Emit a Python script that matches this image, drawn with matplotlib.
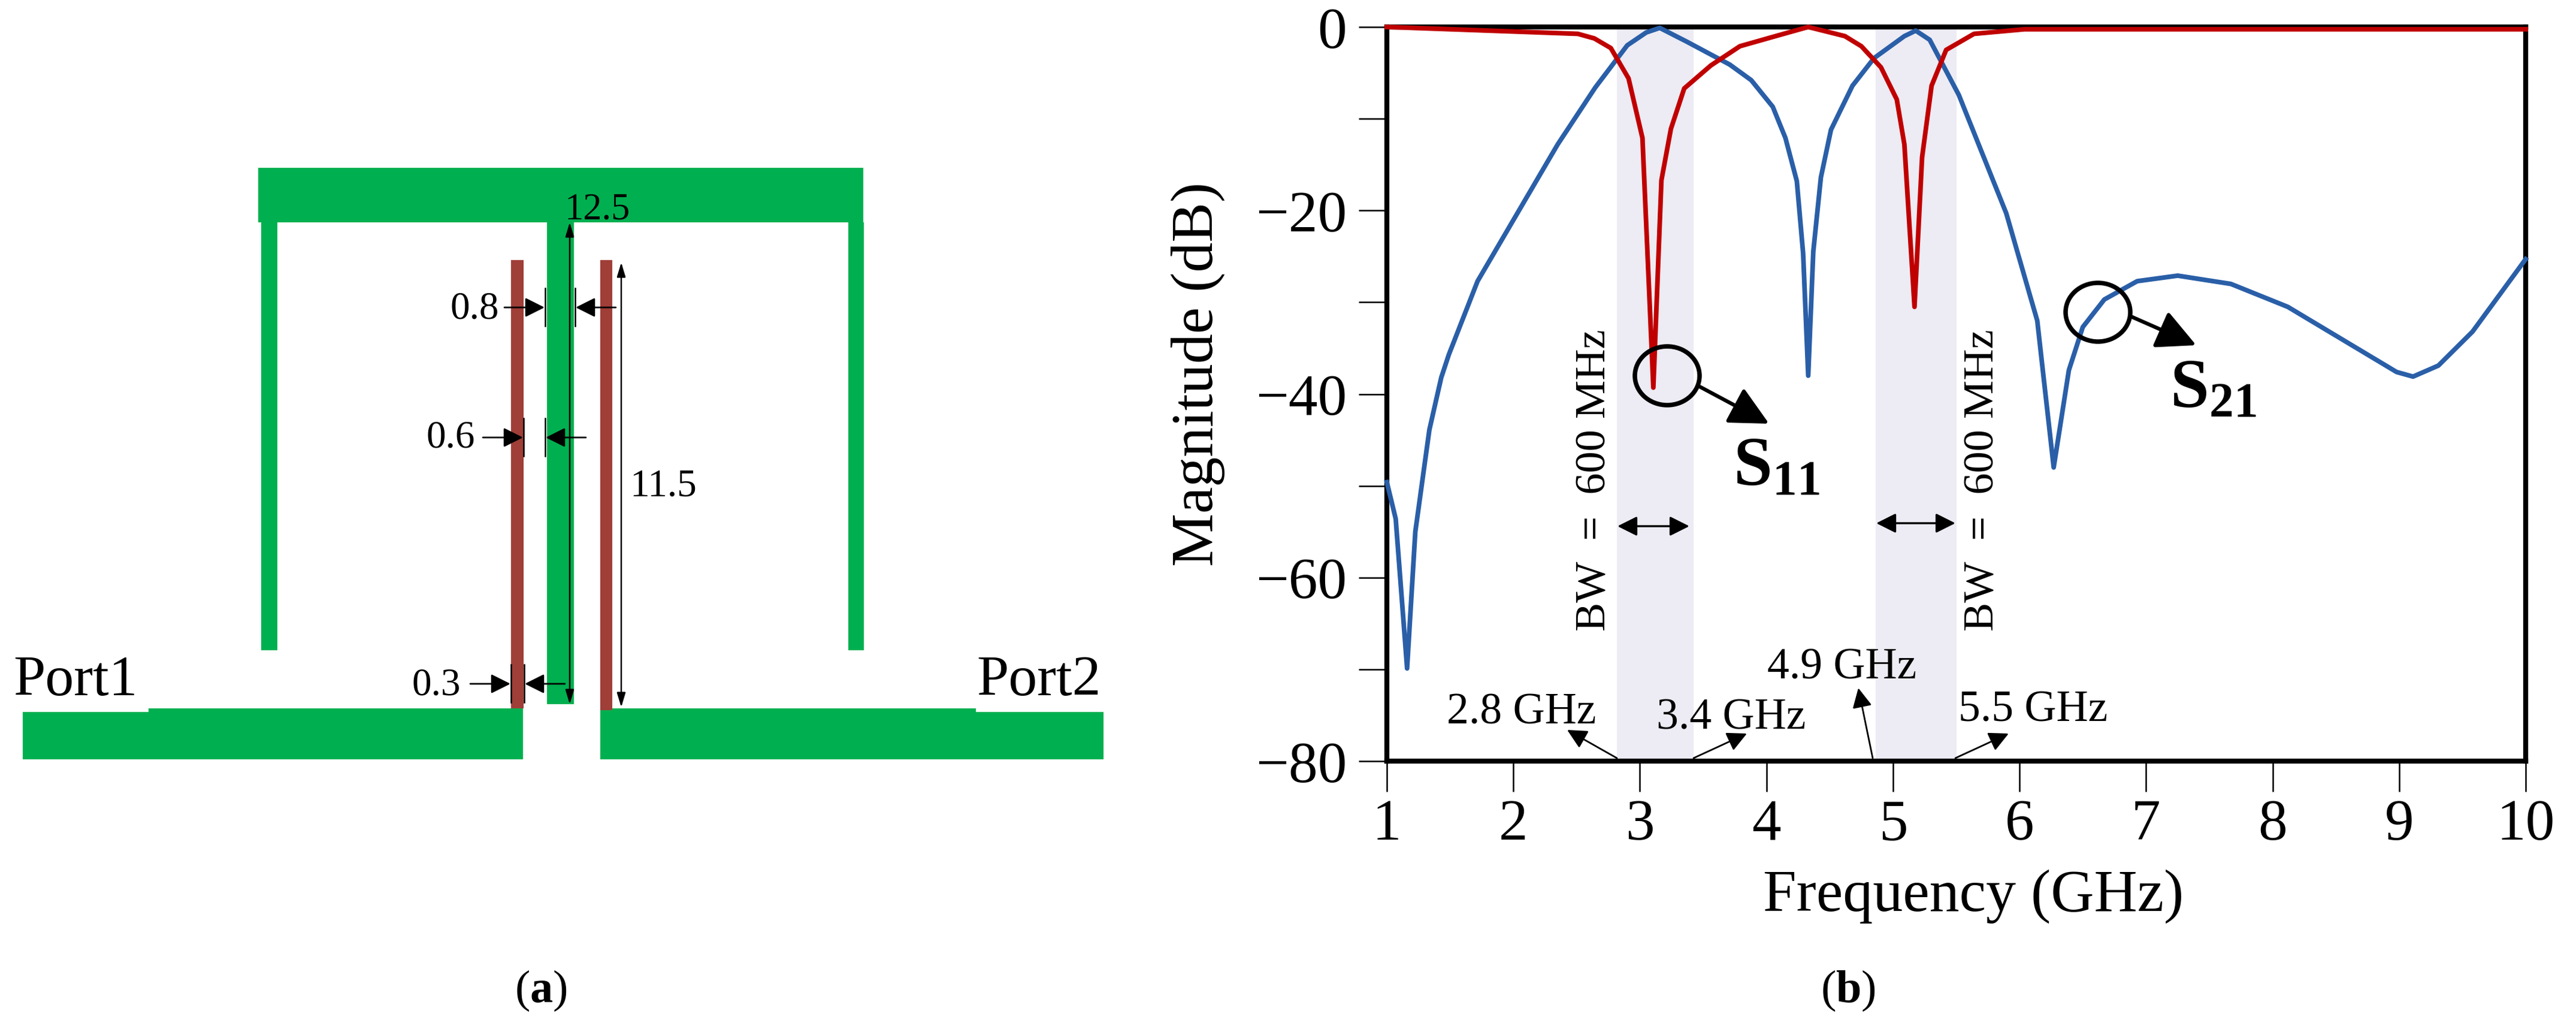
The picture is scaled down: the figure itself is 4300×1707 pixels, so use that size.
import matplotlib
matplotlib.use('Agg')
import matplotlib.pyplot as plt
from matplotlib.patches import Rectangle, Ellipse

plt.rcParams['font.family'] = ['Liberation Serif', 'DejaVu Serif']
plt.rcParams['mathtext.fontset'] = 'custom'
plt.rcParams['mathtext.rm'] = 'Liberation Serif'
plt.rcParams['mathtext.bf'] = 'Liberation Serif:bold'
plt.rcParams['mathtext.it'] = 'Liberation Serif:italic'

# S-parameter curves
s21_freq = [1.0, 1.07, 1.16, 1.225, 1.336, 1.43, 1.49, 1.717, 2.35, 2.647, 2.9, 3.05, 3.157, 3.37,
            3.71, 3.88, 4.05, 4.15, 4.24, 4.29, 4.33, 4.37, 4.43, 4.51, 4.68, 4.85, 5.09, 5.18,
            5.29, 5.52, 5.895, 6.14, 6.27, 6.39, 6.5, 6.67, 6.93, 7.25, 7.67, 8.12, 8.98, 9.11,
            9.31, 9.58, 10.0]
s21_db = [-49.6, -53.6, -69.9, -55.0, -43.9, -38.2, -35.7, -27.7, -12.8, -6.6, -2.0, -0.6, -0.1, -1.6,
          -4.1, -5.8, -8.7, -12.1, -16.8, -24.7, -38.0, -24.5, -16.4, -11.2, -6.4, -3.4, -1.0, -0.4,
          -1.4, -7.4, -20.3, -32.0, -48.0, -37.4, -32.7, -29.7, -27.7, -27.1, -28.0, -30.5, -37.6, -38.1,
          -36.9, -33.2, -25.3]
s11_freq = [1.0, 2.51, 2.64, 2.77, 2.91, 3.02, 3.106, 3.17, 3.245, 3.35, 3.56, 3.79, 4.02, 4.33,
            4.62, 4.75, 4.905, 5.03, 5.09, 5.17, 5.23, 5.305, 5.42, 5.64, 6.04, 10.0]
s11_db = [0.0, -0.75, -1.25, -2.3, -5.6, -12.1, -39.3, -16.7, -11.1, -6.7, -4.2, -2.1, -1.2, 0.0,
          -1.0, -2.1, -4.4, -7.9, -12.8, -30.5, -14.2, -6.4, -2.5, -0.75, -0.25, -0.25]
band_edges = [(2.816, 3.425), (4.862, 5.504)]

x_ticks = [1, 2, 3, 4, 5, 6, 7, 8, 9, 10]
y_ticks = [0, -10, -20, -30, -40, -50, -60, -70, -80]
y_tick_labels = ['0', '', '\u221220', '', '\u221240', '', '\u221260', '', '\u221280']

# Layout of panel (a): x0, x1, y0, y1 in image pixels
green_parts = [(431, 1441, 281, 372), (436, 463, 372, 1086), (1416, 1442, 372, 1086),
               (913, 958, 372, 1176), (38, 248, 1189, 1268), (248, 873, 1183, 1268),
               (1002, 1629, 1183, 1268), (1629, 1842, 1189, 1268)]
brown_parts = [(853, 874, 435, 1183), (1002, 1022, 435, 1186)]

W, H = 4300, 1708
fig = plt.figure(figsize=(W / 100, H / 100), dpi=100, facecolor='white')

# Panel (b) axes
left, right, top, bottom = 2315, 4216, 46, 1271
ax = fig.add_axes([left / W, 1 - bottom / H, (right - left) / W, (bottom - top) / H])
for f0, f1 in band_edges:
    ax.axvspan(f0, f1, color='#EDEBF3', lw=0, zorder=1)
ax.plot(s21_freq, s21_db, color='#2A5FA8', lw=5.6, zorder=3, clip_on=False, solid_joinstyle='round')
ax.plot(s11_freq, s11_db, color='#C00000', lw=5.6, zorder=3.1, clip_on=False, solid_joinstyle='round')
ax.set_xlim(1, 10)
ax.set_ylim(-80, 0)
ax.set_xticks(x_ticks)
ax.set_yticks(y_ticks)
ax.set_yticklabels(y_tick_labels)
ax.tick_params(axis='x', length=37, width=1.8, labelsize=70, pad=8)
ax.tick_params(axis='y', length=34, width=1.8, labelsize=70, pad=14)
for s in ax.spines.values():
    s.set_linewidth(6)
ax.set_xlabel('Frequency (GHz)', fontsize=72)
ax.xaxis.set_label_coords((3294 - left) / (right - left), (bottom - 1520) / (bottom - top), ax.transAxes)
ax.xaxis.label.set_va('baseline')
ax.set_ylabel('Magnitude (dB)', fontsize=72)
ax.yaxis.set_label_coords((2024 - left) / (right - left), (bottom - 624) / (bottom - top), ax.transAxes)
ax.yaxis.label.set_va('baseline')

# Overlay in image pixels for the schematic and annotations
ov = fig.add_axes([0, 0, 1, 1], facecolor='none')
ov.set_xlim(0, W)
ov.set_ylim(H, 0)
ov.axis('off')

for x0, x1, y0, y1 in green_parts:
    ov.add_patch(Rectangle((x0, y0), x1 - x0, y1 - y0, color='#00B050', lw=0))
for x0, x1, y0, y1 in brown_parts:
    ov.add_patch(Rectangle((x0, y0), x1 - x0, y1 - y0, color='#A03E38', lw=0, zorder=2))


def label(x, y, s, size, **kw):
    ov.text(x, y, s, fontsize=size, va='baseline', ha=kw.pop('ha', 'left'), color='black', **kw)


def arrow(x0, y0, x1, y1, style='-|>', lw=2.0, scale=30):
    ov.annotate('', xy=(x1, y1), xytext=(x0, y0),
                arrowprops=dict(arrowstyle=style, lw=lw, color='black', mutation_scale=scale,
                                shrinkA=0, shrinkB=0), zorder=5)


label(22, 1160, 'Port1', 69)
label(1630, 1160, 'Port2', 69)
label(943, 365, '12.5', 45)
label(751, 532, '0.8', 47)
label(711, 747, '0.6', 47)
label(1051, 828, '11.5', 47)
label(688, 1160, '0.3', 47)
label(903, 1672, '($\\mathbf{a}$)', 55, ha='center')
label(3085, 1672, '($\\mathbf{b}$)', 55, ha='center')

dim_style = '<|-|>,head_length=0.4,head_width=0.12'
arrow(951, 372, 951, 1176, dim_style, 1.8, 36)
arrow(1037, 439, 1037, 1181, dim_style, 1.8, 36)
for xa, xb, y in [(910, 960, 514), (874, 910, 731), (853, 875, 1142)]:
    ov.plot([xa, xa], [y - 32, y + 31], color='black', lw=1.8)
    ov.plot([xb, xb], [y - 32, y + 31], color='black', lw=1.8)
    arrow(xa - 68, y, xa - 1, y, '-|>', 2.0, 50)
    arrow(xb + 68, y, xb + 1, y, '-|>', 2.0, 50)

# Annotations on the S-parameter plot
for x, y in [(2662, 1053), (3310, 1053)]:
    ov.text(x, y, 'BW  =  600 MHz', fontsize=52, rotation=90, ha='center', va='bottom')
arrow(2700, 879, 2820, 879, '<|-|>', 2.4, 50)
arrow(3132, 874, 3264, 874, '<|-|>', 2.4, 50)

ov.add_patch(Ellipse((2783, 628), 108, 98, fill=False, ec='black', lw=5.4, zorder=5))
ov.add_patch(Ellipse((3502, 522), 108, 98, fill=False, ec='black', lw=5.4, zorder=5))
arrow(2835, 645, 2953, 708, '-|>', 4.5, 100)
arrow(3557, 529, 3666, 577, '-|>', 4.5, 100)
label(2893, 810, '$\\mathbf{S}_{\\mathbf{11}}$', 84)
label(3622, 680, '$\\mathbf{S}_{\\mathbf{21}}$', 84)

label(2415, 1208, '2.8 GHz', 53)
label(2765, 1217, '3.4 GHz', 53)
label(2950, 1133, '4.9 GHz', 53)
label(3269, 1204, '5.5 GHz', 53)
arrow(2699, 1266, 2616, 1219, '-|>', 2.0, 50)
arrow(2827, 1266, 2916, 1225, '-|>', 2.0, 50)
arrow(3126, 1266, 3102, 1149, '-|>', 2.0, 50)
arrow(3264, 1266, 3353, 1225, '-|>', 2.0, 50)

fig.savefig('out.png', dpi=100)
